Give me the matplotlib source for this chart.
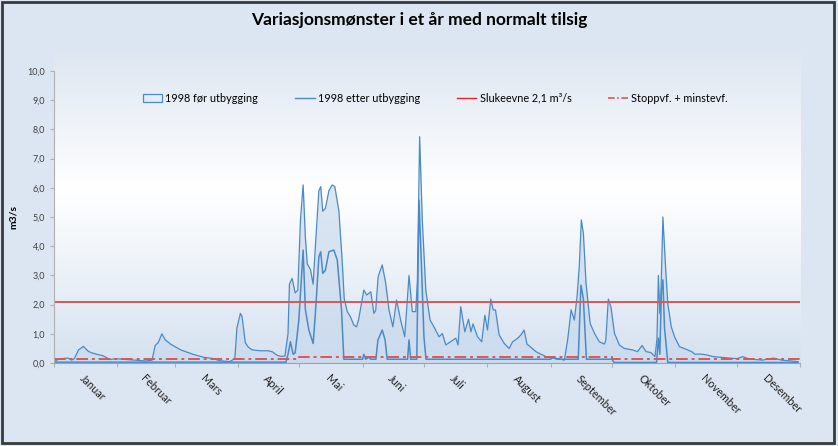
import numpy as np
import matplotlib.pyplot as plt
from matplotlib.patches import Rectangle, Patch
from matplotlib.lines import Line2D

plt.rcParams['font.family'] = ['Lato', 'DejaVu Sans']

# maaneder og start-dag for hver maaned
maaneder = ['Januar', 'Februar', 'Mars', 'April', 'Mai', 'Juni', 'Juli',
            'August', 'September', 'Oktober', 'November', 'Desember']
maaned_start = [0, 31, 59, 90, 120, 151, 181, 212, 243, 273, 304, 334, 365]

# 1998 foer utbygging (dag, m3/s)
dager_for = [0, 2, 5, 7, 8.5, 10, 12, 14.4, 16.8, 18.5, 21, 24, 27.5, 30, 36, 45, 48,
             49.5, 51, 52.8, 54.4, 57, 62, 68, 73, 78, 81, 86, 88.5, 89.5, 91.2, 92,
             93.6, 95, 97, 101, 105, 107, 109, 111, 113, 114.5, 115.2, 116.5, 118,
             119.3, 120.6, 121.9, 123, 123.9, 125.5, 126.8, 127.9, 129.6, 130.5,
             131.5, 132.8, 134.5, 136.1, 137.4, 139.4, 141, 142, 143.5, 145, 146.7,
             148, 149, 151.6, 153, 155, 156.5, 157.4, 158.6, 160.6, 162.3, 163.9,
             165.8, 167.6, 169.6, 171.6, 173.7, 175.3, 177, 177.8, 178.9, 180.2,
             181.9, 184, 185.9, 188.4, 190, 191.7, 194, 196.6, 197.7, 199, 201,
             202.8, 204, 205, 207.2, 209.3, 210.8, 212.1, 213.7, 214.9, 216, 217.8,
             220.3, 222.7, 224.4, 226, 227.6, 228.4, 230, 231.4, 233, 235.8, 238,
             240.7, 244, 247, 249.7, 251.3, 253, 254.6, 255.9, 257, 258, 259, 260.3,
             262.3, 264.4, 266.8, 269.3, 270, 271.2, 272.5, 274.2, 276.6, 279, 283,
             285.5, 287.7, 289.7, 292, 294, 295, 295.7, 296.4, 296.9, 297.9, 299.2,
             300.3, 302, 303.6, 306, 309.4, 312, 313.6, 316, 319.3, 322.5, 327.5,
             334, 337, 340, 346.5, 352, 356, 364]
vf_for = [0.05, 0.12, 0.16, 0.17, 0.1, 0.15, 0.45, 0.57, 0.4, 0.35, 0.3, 0.25, 0.12,
          0.15, 0.12, 0.07, 0.1, 0.6, 0.7, 1.0, 0.8, 0.65, 0.45, 0.3, 0.2, 0.15, 0.08,
          0.05, 0.15, 1.2, 1.7, 1.6, 0.7, 0.55, 0.45, 0.42, 0.42, 0.38, 0.27, 0.23,
          0.24, 1.0, 2.7, 2.9, 2.4, 2.5, 4.9, 6.1, 4.3, 3.4, 3.2, 2.7, 4.0, 5.9, 6.04,
          5.2, 5.3, 5.9, 6.1, 6.04, 5.2, 3.5, 2.2, 1.76, 1.59, 1.3, 1.24, 1.47, 2.5,
          2.33, 2.44, 1.7, 1.8, 2.96, 3.36, 2.73, 1.82, 1.24, 2.16, 1.47, 0.9, 3.0,
          1.76, 1.76, 2.84, 7.75, 4.9, 2.5, 1.47, 1.24, 0.9, 1.01, 0.62, 0.73, 0.85,
          0.62, 1.93, 1.07, 1.5, 1.07, 1.34, 0.9, 0.73, 1.64, 1.13, 2.19, 1.82, 1.82,
          0.96, 0.67, 0.5, 0.73, 0.8, 0.9, 0.96, 1.13, 0.65, 0.56, 0.39, 0.31, 0.22,
          0.17, 0.15, 0.1, 0.79, 1.82, 1.47, 2.27, 3.3, 4.9, 4.44, 2.73, 1.36, 1.02,
          0.73, 0.65, 0.79, 2.19, 1.92, 1.02, 0.62, 0.5, 0.45, 0.39, 0.6, 0.39, 0.36,
          0.22, 0.8, 3.0, 1.7, 2.2, 5.0, 3.3, 2.04, 1.24, 0.9, 0.56, 0.47, 0.39, 0.3,
          0.31, 0.28, 0.22, 0.19, 0.15, 0.22, 0.14, 0.1, 0.17, 0.1, 0.05]

# 1998 etter utbygging (dag, m3/s)
dager_etter = [0, 113.5, 114.5, 115.7, 117, 118, 119.8, 121.9, 123, 124.7, 126.8,
               127.9, 129.6, 130.5, 131.5, 132.8, 134.5, 136.9, 138.6, 140.7, 141.8,
               151, 151.6, 152.5, 154, 155, 157.5, 158.5, 160.6, 162, 163, 173, 173.7,
               174.5, 177.5, 178.6, 179.8, 181, 182, 243, 244, 246, 256.5, 257.8, 259,
               260.5, 273, 274, 294.8, 295.7, 296.4, 297.2, 297.9, 298.7, 300.3, 364]
vf_etter = [0.03, 0.03, 0.3, 0.73, 0.3, 0.35, 1.47, 3.87, 1.82, 1.13, 0.67, 1.7, 3.64,
            3.81, 3.07, 3.18, 3.81, 3.87, 3.53, 1.8, 0.13, 0.13, 0.3, 0.13, 0.2, 0.13,
            0.13, 0.79, 1.13, 0.79, 0.13, 0.13, 0.79, 0.13, 0.13, 5.58, 3.3, 0.9, 0.13,
            0.13, 0.2, 0.13, 0.13, 2.67, 2.2, 0.13, 0.13, 0.02, 0.02, 0.85, 0.3, 2.5,
            2.85, 1.2, 0.02, 0.02]

slukeevne = 2.1
dager_stopp = [0, 120, 120, 273, 273, 365]
vf_stopp = [0.15, 0.15, 0.2, 0.2, 0.15, 0.15]

blaa = '#4a8ac6'
rod = '#dd5555'

fig = plt.figure(figsize=(8.38, 4.46), dpi=100)
fig.patch.set_facecolor('#dce6f2')

# bakgrunn med gradient bak plottet
bg = fig.add_axes([0.0644, 0.186, 0.8903, 0.702], zorder=0)
stopp = np.array([0.0, 0.55, 1.0])
farger = np.array([[214, 226, 240], [255, 255, 255], [221, 230, 241]]) / 255
t = np.linspace(0, 1, 200)
grad = np.stack([np.interp(t, stopp, farger[:, k]) for k in range(3)], axis=1)
bg.imshow(grad[::-1, None, :], aspect='auto', extent=[0, 1, 0, 1])
bg.axis('off')

ax = fig.add_axes([0.0644, 0.186, 0.8903, 0.6547], zorder=1)
ax.patch.set_alpha(0)

ax.fill_between(dager_for, vf_for, 0, color='#c5d7ec', alpha=0.6, lw=0)
ax.plot(dager_for, vf_for, color=blaa, lw=0.9)
ax.plot(dager_etter, vf_etter, color=blaa, lw=1.1)
ax.axhline(slukeevne, color=rod, lw=1.4)
ax.plot(dager_stopp, vf_stopp, color=rod, lw=1.4, dashes=(6, 2, 1.5, 2))

# legend
handles = [Patch(facecolor='#e4ecf6', edgecolor=blaa, lw=0.9),
           Line2D([], [], color=blaa, lw=1),
           Line2D([], [], color='#ee2222', lw=1),
           Line2D([], [], color=rod, lw=1.2, dashes=(4, 1.5, 1, 1.5))]
labels = ['1998 før utbygging', '1998 etter utbygging', 'Slukeevne 2,1 m³/s',
          'Stoppvf. + minstevf.']
ax.legend(handles, labels, loc='center', bbox_to_anchor=(0.511, 0.907), ncol=4,
          frameon=False, fontsize=7.8, handlelength=1.8, handletextpad=0.3,
          columnspacing=3.4, handleheight=0.8)

ax.set_xlim(0, 365)
ax.set_ylim(0, 10)
ax.set_yticks(np.arange(0, 11, 1))
ax.set_yticklabels([f'{v:.1f}'.replace('.', ',') for v in np.arange(0, 11, 1)],
                   fontsize=6.5, color='#404040')
ax.set_ylabel('m3/s', fontsize=7.5, fontweight='bold', labelpad=7)
ax.tick_params(axis='y', length=3, color='#b0b0b0')

ax.set_xticks(maaned_start)
ax.set_xticklabels([])
ax.tick_params(axis='x', length=3, color='#b0b0b0')
midt = [(maaned_start[i] + maaned_start[i + 1]) / 2 for i in range(12)]
ax.set_xticks(midt, minor=True)
ax.set_xticklabels(maaneder, minor=True, rotation=-45, ha='left', va='top',
                   rotation_mode='anchor', fontsize=7.8, color='#202020')
ax.tick_params(axis='x', which='minor', length=0, pad=7)

for s in ['top', 'right']:
    ax.spines[s].set_visible(False)
ax.spines['left'].set_color('#b0b0b0')
ax.spines['bottom'].set_color('#8aa6c8')

fig.text(0.5, 0.955, 'Variasjonsmønster i et år med normalt tilsig', ha='center',
         va='center', fontsize=12.5, fontweight='bold')

# ramme rundt hele figuren
fig.patches.append(Rectangle((0.002, 0.006), 0.993, 0.99, transform=fig.transFigure,
                             fill=False, edgecolor='#3a3a3a', lw=2))

fig.savefig('out.png', dpi=100, facecolor=fig.get_facecolor())
